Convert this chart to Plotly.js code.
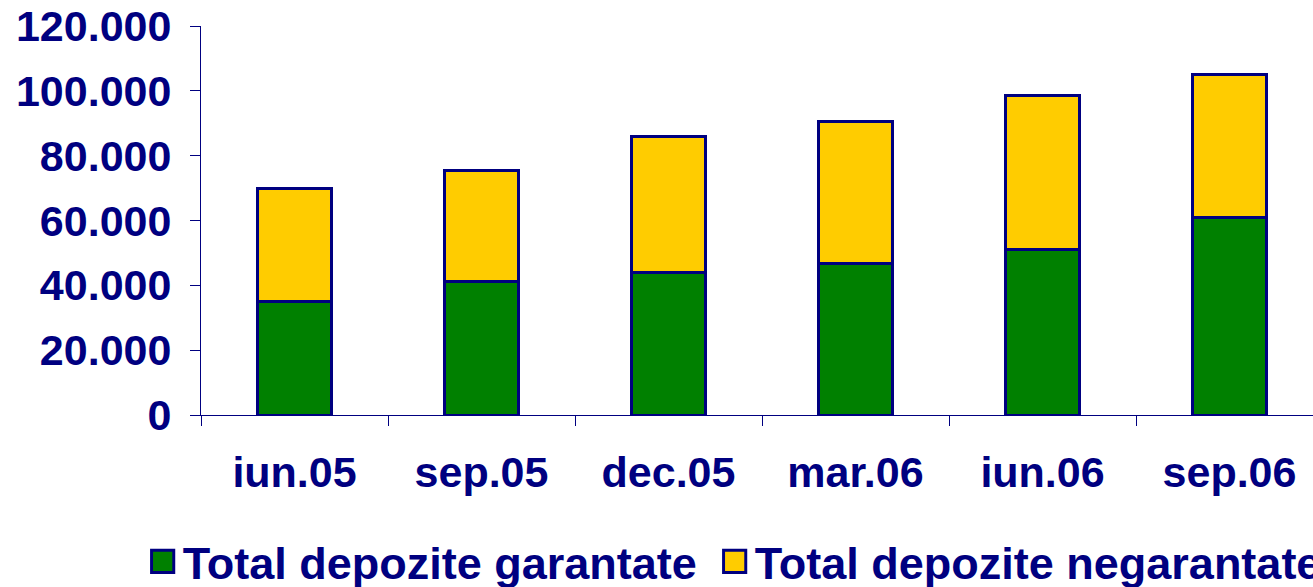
<!DOCTYPE html>
<html>
<head>
<meta charset="utf-8">
<script src="https://cdn.plot.ly/plotly-3.0.1.min.js"></script>
<style>
html,body{margin:0;padding:0;overflow:hidden;background:#fff;}
#chart{width:1400px;height:587px;}
</style>
</head>
<body>
<div id="chart"></div>
<script>
var categories = ['iun.05', 'sep.05', 'dec.05', 'mar.06', 'iun.06', 'sep.06'];
var garantate = [35000, 41300, 44000, 46700, 51100, 61000];
var negarantate = [35000, 34000, 42000, 43700, 47600, 43900];
var seriesNames = ['Total depozite garantate', 'Total depozite negarantate'];
var yTicks = [0, 20000, 40000, 60000, 80000, 100000, 120000];

var navy = '#000080';
var fam = 'Liberation Sans, Arial, sans-serif';
var font = {family: fam, size: 43, color: navy, weight: 'bold'};

var traces = [
  {type: 'bar', name: seriesNames[0], x: categories, y: garantate, width: 0.4,
   marker: {color: '#008000', line: {color: navy, width: 3}}, hoverinfo: 'none'},
  {type: 'bar', name: seriesNames[1], x: categories, y: negarantate, width: 0.4,
   marker: {color: '#FFCC00', line: {color: navy, width: 3}}, hoverinfo: 'none'}
];

var layout = {
  width: 1400, height: 587,
  margin: {l: 201, r: 77, t: 26, b: 172, pad: 0, autoexpand: false},
  barmode: 'stack',
  separators: ',.',
  paper_bgcolor: '#fff', plot_bgcolor: '#fff',
  font: font,
  showlegend: true,
  legend: {orientation: 'h', x: -0.052, xanchor: 'left', y: -0.377, yanchor: 'middle',
           entrywidth: 527, entrywidthmode: 'pixels',
           font: {family: fam, size: 45, color: navy, weight: 'bold'},
           bgcolor: 'rgba(0,0,0,0)', traceorder: 'normal', itemclick: false, itemdoubleclick: false},
  xaxis: {type: 'category', range: [-0.5, 5.5], showline: true, linecolor: navy, linewidth: 1,
          ticks: 'outside', tickson: 'boundaries', ticklen: 10, tickcolor: navy, tickwidth: 1,
          showgrid: false, zeroline: false, tickfont: font, ticklabelstandoff: 19, fixedrange: true, automargin: false},
  yaxis: {range: [0, 120000], tickvals: yTicks, tickformat: ',d', showline: true, linecolor: navy, linewidth: 1,
          ticks: 'outside', ticklen: 10, tickcolor: navy, tickwidth: 1, showgrid: false, zeroline: false,
          tickfont: font, ticklabelstandoff: 10, fixedrange: true, automargin: false}
};

Plotly.newPlot('chart', traces, layout, {displayModeBar: false, staticPlot: true}).then(function(gd){
  var pts = gd.querySelectorAll('.legend .legendpoints path');
  pts.forEach(function(p){ p.setAttribute('transform', 'translate(20,0) scale(1.85)'); p.style.strokeWidth = '1.6px'; });
  gd.querySelectorAll('.legend [clip-path]').forEach(function(el){ el.removeAttribute('clip-path'); });
});
</script>
</body>
</html>
